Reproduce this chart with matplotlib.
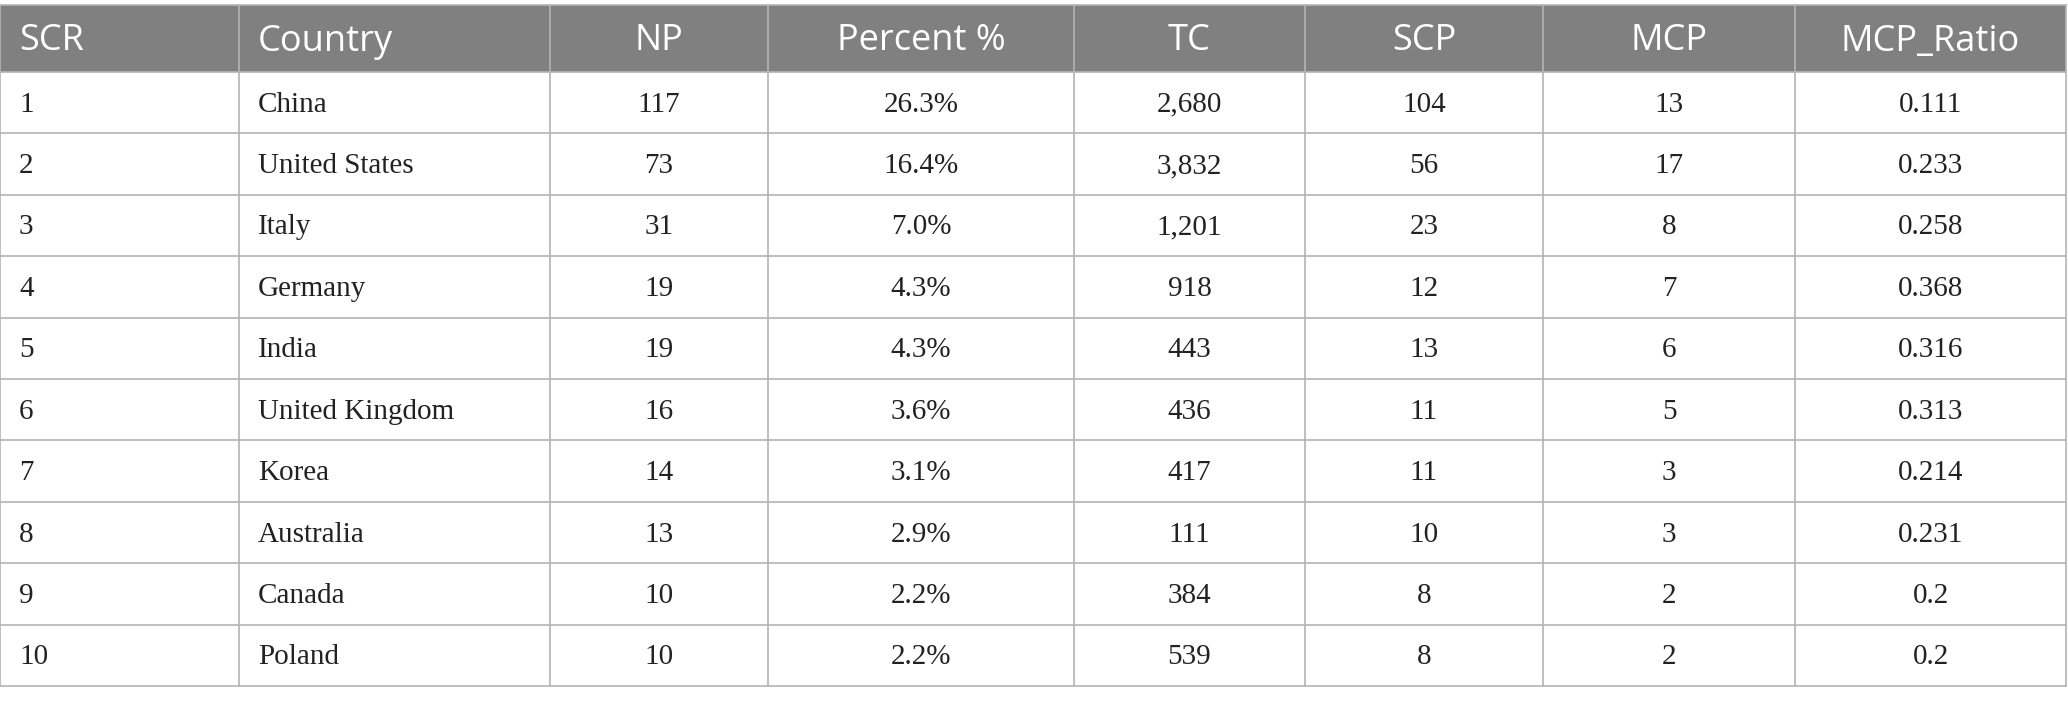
import matplotlib.pyplot as plt
from matplotlib.patches import Rectangle

# --- table data ---
headers = ["SCR", "Country", "NP", "Percent %", "TC", "SCP", "MCP", "MCP_Ratio"]
scr = ["1", "2", "3", "4", "5", "6", "7", "8", "9", "10"]
country = ["China", "United States", "Italy", "Germany", "India",
           "United Kingdom", "Korea", "Australia", "Canada", "Poland"]
np_count = [117, 73, 31, 19, 19, 16, 14, 13, 10, 10]
percent = ["26.3%", "16.4%", "7.0%", "4.3%", "4.3%", "3.6%", "3.1%", "2.9%", "2.2%", "2.2%"]
tc = ["2,680", "3,832", "1,201", "918", "443", "436", "417", "111", "384", "539"]
scp = [104, 56, 23, 12, 13, 11, 11, 10, 8, 8]
mcp = [13, 17, 8, 7, 6, 5, 3, 3, 2, 2]
mcp_ratio = ["0.111", "0.233", "0.258", "0.368", "0.316", "0.313", "0.214", "0.231", "0.2", "0.2"]

# --- layout (pixels) ---
W, H = 2068, 705
col_edges = [0, 239, 550, 768, 1074, 1305, 1543, 1795, 2066]
align = ["left", "left", "center", "center", "center", "center", "center", "center"]
top, head_bot, bottom = 5, 72, 686
row_h = (bottom - head_bot) / len(scr)
pad = 19
line_col = "#b4b4b4"

fig = plt.figure(figsize=(W / 100, H / 100), dpi=100)
ax = fig.add_axes([0, 0, 1, 1])
ax.set_xlim(0, W)
ax.set_ylim(H, 0)
ax.axis("off")

# header background
ax.add_patch(Rectangle((col_edges[0], top), col_edges[-1] - col_edges[0], head_bot - top,
                       facecolor="#808080", edgecolor="none"))

def cell_x(j):
    if align[j] == "left":
        return col_edges[j] + pad
    return (col_edges[j] + col_edges[j + 1]) / 2

# header text
for j, h in enumerate(headers):
    ax.text(cell_x(j), (top + head_bot) / 2 + 3, h, ha=align[j], va="center",
            color="white", fontsize=26, family="Open Sans")

# body text
columns = [scr, country, np_count, percent, tc, scp, mcp, mcp_ratio]
for i in range(len(scr)):
    yc = head_bot + row_h * (i + 0.5)
    for j, col in enumerate(columns):
        ax.text(cell_x(j), yc + 2, str(col[i]), ha=align[j], va="center",
                color="#222222", fontsize=21, family="Liberation Serif")

# grid lines
for k in range(len(scr) + 1):
    y = head_bot + row_h * k
    ax.plot([col_edges[0], col_edges[-1]], [y, y], color=line_col, lw=1.2)
ax.plot([col_edges[0], col_edges[-1]], [top, top], color=line_col, lw=1.2)
for x in col_edges:
    ax.plot([x, x], [top, bottom], color=line_col, lw=1.2)

fig.savefig("out.png", dpi=100, facecolor="white")
